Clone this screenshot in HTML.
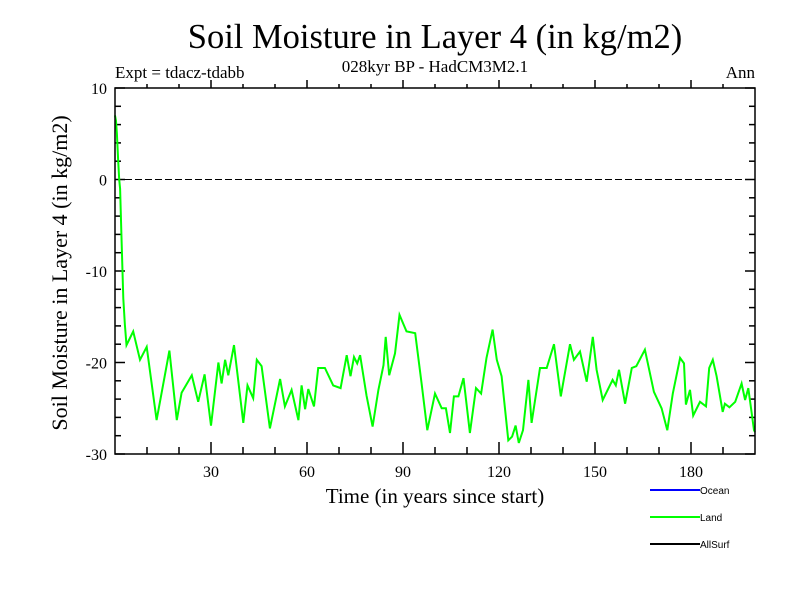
<!DOCTYPE html>
<html><head><meta charset="utf-8"><style>
body{margin:0;background:#fff}
svg{display:block}
text{font-family:"Liberation Serif",serif;fill:#000}
</style></head><body>
<svg id="chart" width="800" height="600" viewBox="0 0 800 600" xmlns="http://www.w3.org/2000/svg">
<rect width="800" height="600" fill="#fff"/>
<text x="435" y="48" font-size="34.5" text-anchor="middle">Soil Moisture in Layer 4 (in kg/m2)</text>
<text x="435" y="72" font-size="17" text-anchor="middle">028kyr BP - HadCM3M2.1</text>
<text x="115" y="78" font-size="17">Expt = tdacz-tdabb</text>
<text x="755" y="78" font-size="17" text-anchor="end">Ann</text>
<g id="axes"></g>
<line id="zero" stroke="#000" stroke-width="1" stroke-dasharray="7,3"/>
<path id="series" fill="none" stroke="#00ff00" stroke-width="2"/>
<rect x="115" y="88" width="640" height="366" fill="none" stroke="#000" stroke-width="1.5"/>
<text x="435" y="503" font-size="21" text-anchor="middle">Time (in years since start)</text>
<text transform="translate(67,273) rotate(-90)" font-size="22" text-anchor="middle">Soil Moisture in Layer 4 (in kg/m2)</text>
<g>
<line x1="650" y1="490" x2="700" y2="490" stroke="#0000ff" stroke-width="2"/>
<text x="700" y="494" font-size="10" style="font-family:'Liberation Sans',sans-serif">Ocean</text>
<line x1="650" y1="517" x2="700" y2="517" stroke="#00ff00" stroke-width="2"/>
<text x="700" y="521" font-size="10" style="font-family:'Liberation Sans',sans-serif">Land</text>
<line x1="650" y1="544" x2="700" y2="544" stroke="#000" stroke-width="2"/>
<text x="700" y="548" font-size="10" style="font-family:'Liberation Sans',sans-serif">AllSurf</text>
</g>
</svg>
<script>
const years=[0,0.3,0.6,1,1.3,1.6,2,2.6,3.1,3.6,5.7,7.8,9.9,13,17,19.3,20.8,24,26,28,30,32.3,33.3,34.4,35.4,37.2,40.1,41.4,43.2,44.3,45.8,48.4,51.6,53.1,55.2,57.3,58.3,59.4,60.4,62.2,63.5,65.6,68.2,70.5,72.4,73.6,74.7,75.7,76.6,78.6,80.5,82.3,83.9,84.6,85.7,87.5,88.9,91.1,93.8,95.8,97.6,100,102.1,103.4,104.7,105.9,107.3,108.9,110.9,112.8,114.4,116.1,118,119.3,120.8,122.9,124.1,125.2,126.2,127.5,129.2,130.2,132.8,134.9,137.2,139.3,142.2,143.4,145.3,147.4,149.3,150.5,152.4,155.5,156.5,157.5,159.4,161.5,162.9,165.6,168.4,170.8,172.6,174.3,176.6,177.8,178.4,179.7,180.7,182.8,184.7,185.7,186.8,188,189.9,190.6,192,193.8,195.8,196.9,197.9,199.7,200];
const values=[7,6.4,5,2,0,-1,-6,-13,-15.9,-18.1,-16.6,-19.7,-18.3,-26.3,-18.7,-26.3,-23.3,-21.4,-24.3,-21.3,-26.9,-20,-22.3,-19.7,-21.4,-18.1,-26.6,-22.5,-23.9,-19.7,-20.4,-27.2,-21.8,-24.8,-23,-26.3,-22.5,-25.1,-22.9,-24.8,-20.6,-20.6,-22.5,-22.8,-19.2,-21.5,-19.4,-20.1,-19.2,-23.6,-27,-23,-20.3,-17.2,-21.4,-19,-14.8,-16.6,-16.8,-22.3,-27.4,-23.4,-25,-25,-27.7,-23.7,-23.7,-21.7,-27.7,-22.8,-23.4,-19.5,-16.4,-19.7,-21.5,-28.5,-28.1,-26.9,-28.8,-27.4,-21.9,-26.6,-20.6,-20.6,-18,-23.7,-18,-19.7,-18.8,-22.1,-17.2,-20.8,-24.1,-21.9,-22.5,-20.8,-24.5,-20.6,-20.4,-18.6,-23.2,-25,-27.4,-23.4,-19.5,-20.1,-24.6,-23,-25.8,-24.3,-24.8,-20.6,-19.7,-21.5,-25.4,-24.5,-24.9,-24.3,-22.3,-24.1,-22.8,-27.4,-27.6];
const yTicks=[10,0,-10,-20,-30];
const xTicks=[30,60,90,120,150,180];
const X0=115,X1=755,Y0=88,Y1=454,XMIN=0,XMAX=200,YMIN=-30,YMAX=10;
const sx=v=>X0+(v-XMIN)/(XMAX-XMIN)*(X1-X0);
const sy=v=>Y1-(v-YMIN)/(YMAX-YMIN)*(Y1-Y0);
const NS="http://www.w3.org/2000/svg";
const ax=document.getElementById('axes');
function ln(x1,y1,x2,y2,name){const l=document.createElementNS(NS,'line');
l.setAttribute('x1',x1);l.setAttribute('y1',y1);l.setAttribute('x2',x2);l.setAttribute('y2',y2);
l.setAttribute('stroke','#000');l.setAttribute('stroke-width','1.5');


ax.appendChild(l);}
for(let v=YMIN;v<=YMAX;v+=2){const major=v%10===0;const L=major?10:6;const y=sy(v);
ln(X0,y,X0+L,y,'y-tick');ln(X1-L,y,X1,y,'y-tick-right');}
for(let v=10;v<XMAX;v+=10){const major=v%30===0;const L=major?12:7;const x=sx(v);
ln(x,Y1,x,Y1-L,'x-tick');ln(x,Y0,x,Y0-(major?8:4),'x-tick-top');}
yTicks.forEach(v=>{const t=document.createElementNS(NS,'text');t.setAttribute('x',X0-8);t.setAttribute('y',sy(v)+6);
t.setAttribute('text-anchor','end');t.setAttribute('font-size','16');t.textContent=v;


ax.appendChild(t);});
xTicks.forEach(v=>{const t=document.createElementNS(NS,'text');t.setAttribute('x',sx(v));t.setAttribute('y',Y1+23);
t.setAttribute('text-anchor','middle');t.setAttribute('font-size','16');t.textContent=v;


ax.appendChild(t);});
const z=document.getElementById('zero');
z.setAttribute('x1',X0);z.setAttribute('x2',X1);z.setAttribute('y1',sy(0));z.setAttribute('y2',sy(0));
document.getElementById('series').setAttribute('d',years.map((yr,i)=>(i?'L':'M')+sx(yr).toFixed(1)+','+sy(values[i]).toFixed(1)).join(''));
</script>
</body></html>
